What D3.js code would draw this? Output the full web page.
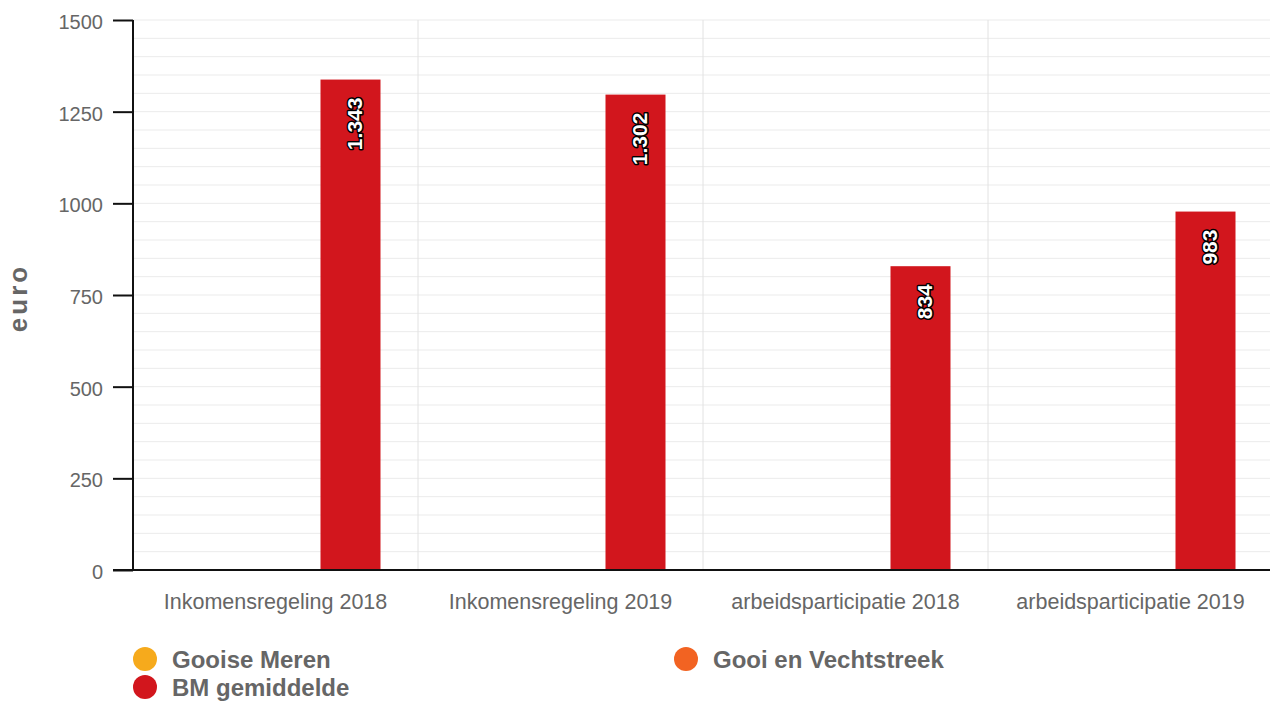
<!DOCTYPE html>
<html>
<head>
<meta charset="utf-8">
<script src="https://cdn.jsdelivr.net/npm/d3@7"></script>
<style>
  body { margin: 0; background: #fff; }
  svg { display: block; font-family: "Liberation Sans", Arial, sans-serif; }
</style>
</head>
<body>
<svg width="1270" height="703"></svg>
<script>
const categories = ['Inkomensregeling 2018', 'Inkomensregeling 2019', 'arbeidsparticipatie 2018', 'arbeidsparticipatie 2019'];
const seriesNames = ['Gooise Meren', 'Gooi en Vechtstreek', 'BM gemiddelde'];
const seriesColors = ['#f6aa1c', '#f26322', '#d2161d'];
const gooiseMeren = [null, null, null, null];
const gooiEnVechtstreek = [null, null, null, null];
const bmGemiddelde = [1343, 1302, 834, 983];
const yTicks = [0, 250, 500, 750, 1000, 1250, 1500];

const seriesValues = [gooiseMeren, gooiEnVechtstreek, bmGemiddelde];

const svg = d3.select('svg');
const nl = d3.formatLocale({ decimal: ',', thousands: '.', grouping: [3], currency: ['€', ''] });
const fmt = nl.format(',d');

const plotLeft = 133, plotRight = 1273, plotTop = 20, plotBottom = 570;

const x0 = d3.scaleBand().domain(categories).range([plotLeft, plotRight]);
const x1 = d3.scaleBand().domain(seriesNames).range([0, x0.bandwidth()])
    .paddingInner(0.2).paddingOuter(0.5);
const y = d3.scaleLinear().domain([0, 1500]).range([plotBottom, plotTop]);

// minor grid every 50
svg.append('g')
  .selectAll('line')
  .data(d3.range(50, 1501, 50))
  .join('line')
    .attr('x1', plotLeft).attr('x2', plotRight)
    .attr('y1', d => y(d)).attr('y2', d => y(d))
    .attr('stroke', '#ebebeb')
    .attr('stroke-width', 1);

// vertical category separators
svg.append('g')
  .selectAll('line')
  .data(categories.slice(1))
  .join('line')
    .attr('x1', d => x0(d)).attr('x2', d => x0(d))
    .attr('y1', plotTop).attr('y2', plotBottom)
    .attr('stroke', '#e2e2e2');

// bars
const rows = [];
categories.forEach((c, i) => {
  seriesNames.forEach((s, j) => {
    if (seriesValues[j][i] != null) rows.push({ cat: c, name: s, value: seriesValues[j][i], color: seriesColors[j] });
  });
});

svg.append('g')
  .selectAll('rect')
  .data(rows)
  .join('rect')
    .attr('x', d => x0(d.cat) + x1(d.name))
    .attr('y', d => y(d.value) + 2)
    .attr('width', x1.bandwidth())
    .attr('height', d => y(0) - y(d.value) - 2)
    .attr('fill', d => d.color);

// value labels, rotated inside bar (reading upwards)
svg.append('g')
  .selectAll('text')
  .data(rows)
  .join('text')
    .attr('transform', d => `translate(${x0(d.cat) + x1(d.name) + x1.bandwidth() / 2 + 11}, ${y(d.value) + 20}) rotate(-90)`)
    .attr('text-anchor', 'end')
    .attr('font-size', 21)
    .attr('font-weight', 'bold')
    .attr('fill', '#fff')
    .attr('stroke', '#000')
    .attr('stroke-width', 3)
    .attr('stroke-linejoin', 'round')
    .attr('paint-order', 'stroke')
    .text(d => fmt(d.value));

// y axis
const yAxis = svg.append('g')
  .attr('transform', `translate(${plotLeft},0)`)
  .call(d3.axisLeft(y).tickValues(yTicks).tickSize(20).tickPadding(10).tickFormat(d3.format('d')));
yAxis.select('.domain').attr('stroke', '#111').attr('stroke-width', 2).attr('d', `M0,${plotTop}V${plotBottom}`);
yAxis.selectAll('.tick line').attr('stroke', '#111').attr('stroke-width', 2);
yAxis.selectAll('.tick text')
  .attr('font-size', 20)
  .attr('fill', '#666')
  .attr('font-family', '"Liberation Sans", Arial, sans-serif')
  .attr('dy', '0.42em');

// x axis
const xAxis = svg.append('g')
  .attr('transform', `translate(0,${plotBottom})`)
  .call(d3.axisBottom(x0).tickSize(0).tickPadding(24));
xAxis.select('.domain').attr('stroke', '#111').attr('stroke-width', 2).attr('d', `M${plotLeft - 20},0H${plotRight}`);
xAxis.selectAll('.tick text')
  .attr('font-size', 21.5)
  .attr('fill', '#666')
  .attr('font-family', '"Liberation Sans", Arial, sans-serif');

// axis title
svg.append('text')
  .attr('transform', `translate(27, 298) rotate(-90)`)
  .attr('text-anchor', 'middle')
  .attr('font-size', 26)
  .attr('font-weight', 'bold')
  .attr('letter-spacing', 3)
  .attr('fill', '#666')
  .text('euro');

// legend
const legend = svg.append('g')
  .selectAll('g')
  .data(seriesNames)
  .join('g')
    .attr('transform', (d, i) => `translate(${145 + (i % 2) * 541}, ${659 + Math.floor(i / 2) * 28})`);

legend.append('circle')
  .attr('r', 12)
  .attr('fill', (d, i) => seriesColors[i]);

legend.append('text')
  .attr('x', 27)
  .attr('dy', '0.36em')
  .attr('font-size', 24)
  .attr('font-weight', 'bold')
  .attr('fill', '#666')
  .text(d => d);
</script>
</body>
</html>
